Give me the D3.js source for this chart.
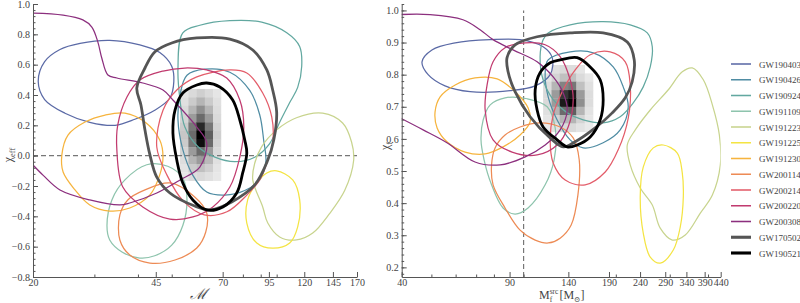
<!DOCTYPE html>
<html>
<head>
<meta charset="utf-8">
<script src="https://cdn.jsdelivr.net/npm/d3@7"></script>
<style>
  body { margin: 0; background: #fff; }
  svg text { font-family: "Liberation Serif", "DejaVu Serif", serif; fill: #444; }
</style>
</head>
<body>
<div id="chart"></div>
<script>
// ---------- events / legend ----------
const events = ["GW190403","GW190426","GW190924","GW191109","GW191223","GW191225","GW191230",
                "GW200114","GW200214","GW200220","GW200308","GW170502","GW190521"];
const colors = ["#5b6aa6","#4f8ca3","#62a8a0","#8ec4ad","#c8d48e","#f4e443","#f6b43e",
                "#ed8b55","#e35d6a","#c13b6f","#8c2f7e","#555555","#000000"];

// ---------- left panel: chirp mass vs chi_eff (90% contours) ----------
const effGW190403 = [[20.7,0.49],[21.6,0.62],[23.9,0.70],[27.3,0.74],[33.2,0.76],[40.5,0.73],[46.2,0.68],[50.0,0.59],[50.7,0.49],[49.4,0.38],[44.7,0.30],[39.2,0.24],[34.4,0.20],[29.1,0.22],[24.7,0.28],[21.6,0.37]];
const effGW190426 = [[52.8,0.40],[55.3,0.53],[62.2,0.57],[73.4,0.55],[83.7,0.43],[89.4,0.27],[91.8,0.10],[93.1,-0.04],[89.4,-0.16],[81.0,-0.23],[71.0,-0.26],[63.0,-0.24],[57.5,-0.13],[53.8,0.04],[52.1,0.24]];
const effGW190924 = [[53.8,0.81],[60.2,0.86],[73.4,0.89],[90.6,0.88],[106.9,0.81],[116.4,0.72],[118.0,0.59],[114.9,0.45],[109,0.35],[102,0.22],[95.5,0.08],[86.5,-0.01],[75.8,-0.04],[66.5,-0.01],[59.4,0.06],[54.5,0.19],[52.8,0.37],[52.1,0.57]];
const effGW191109 = [[32.6,-0.46],[33.7,-0.29],[36.7,-0.16],[42.4,-0.06],[48.7,-0.07],[53.8,-0.15],[55.3,-0.29],[53.8,-0.46],[50.0,-0.59],[44.7,-0.66],[40.5,-0.675],[36.0,-0.635],[33.2,-0.556]];
const effGW191223 = [[85.4,-0.16],[86.5,-0.05],[90.6,0.06],[100,0.17],[114,0.25],[135.5,0.28],[154.6,0.215],[164,0.09],[166.3,-0.03],[156.7,-0.23],[142,-0.38],[126.9,-0.51],[114,-0.556],[102,-0.536],[94.3,-0.444],[91.2,-0.338]];
const effGW191225 = [[82.6,-0.29],[87.7,-0.18],[93.7,-0.114],[100,-0.10],[111.2,-0.16],[116.4,-0.29],[114.9,-0.47],[109,-0.576],[97.4,-0.61],[87.7,-0.576],[82.1,-0.444]];
const effGW191230 = [[24.2,0.005],[25.2,0.136],[28.2,0.222],[32.2,0.268],[36.7,0.281],[41.9,0.222],[46.2,0.103],[47.2,-0.009],[46.2,-0.127],[43.3,-0.259],[37.9,-0.345],[33.2,-0.365],[29.1,-0.325],[26.4,-0.226],[24.4,-0.108]];
const effGW200114 = [[35.5,-0.391],[37.4,-0.292],[41.9,-0.226],[49.4,-0.18],[58.2,-0.272],[63.0,-0.378],[62.6,-0.503],[59.0,-0.609],[51.1,-0.688],[43.3,-0.708],[37.9,-0.655],[35.5,-0.556]];
const effGW200214 = [[45.3,0.057],[47.2,0.30],[51.7,0.433],[59.0,0.519],[73.4,0.565],[82.1,0.545],[91.2,0.413],[96.8,0.255],[97.4,0.084],[93.7,-0.048],[89.4,-0.16],[82.1,-0.26],[72,-0.37],[62,-0.39],[54,-0.30],[48.5,-0.13]];
const effGW200220 = [[34.8,0.037],[35.0,0.202],[37.2,0.387],[40.5,0.499],[47.2,0.558],[54.5,0.578],[63.0,0.565],[71.9,0.512],[78.4,0.367],[80.5,0.189],[78.4,-0.009],[73.4,-0.207],[65.6,-0.338],[57.5,-0.404],[49.4,-0.418],[41.3,-0.338],[36.2,-0.207]];
// cut by the left edge of the frame -> open line
const effGW200308 = [[19.5,0.941],[24.4,0.927],[27.8,0.895],[29.5,0.848],[30.7,0.749],[31.5,0.644],[32.8,0.532],[34.8,0.512],[41.3,0.479],[47.2,0.433],[50.4,0.367],[59.0,0.189],[63.0,0.084],[60.2,-0.075],[52.8,-0.16],[45.3,-0.246],[37.9,-0.312],[35.5,-0.325],[29.1,-0.292],[23.9,-0.226],[21.4,-0.13],[19.6,-0.04]];
const effGW170502 = [[39.7,0.446],[41.9,0.578],[44.7,0.684],[50.0,0.743],[59.0,0.776],[73.4,0.769],[85.4,0.697],[93.7,0.565],[97.4,0.433],[100,0.288],[98.1,0.103],[94.3,-0.029],[86.5,-0.193],[74.3,-0.305],[64.3,-0.358],[58.2,-0.332],[49.4,-0.246],[45.3,-0.141],[43.3,0.005],[41.9,0.169],[40.8,0.334]];
const effGW190521 = [[63.0,0.479],[68.7,0.453],[74.8,0.367],[78.4,0.235],[81.0,0.103],[82.1,0.018],[79.9,-0.114],[76.8,-0.246],[70.1,-0.338],[63.0,-0.358],[57.5,-0.292],[53.8,-0.18],[51.7,-0.029],[50.4,0.149],[51.1,0.301],[53.8,0.413],[59.0,0.466]];

// GW190521 posterior density (left)
const effBinsM = [52.8, 55.8, 58.8, 62.2, 65.7, 69.2];
const effBinsChi = [0.44, 0.385, 0.33, 0.275, 0.22, 0.165, 0.11, 0.055, 0, -0.055, -0.11, -0.165];
const effDensity = [
  [0.05,0.12,0.18,0.12,0.05],
  [0.08,0.20,0.30,0.20,0.08],
  [0.12,0.30,0.45,0.30,0.10],
  [0.15,0.40,0.60,0.40,0.12],
  [0.20,0.55,0.85,0.55,0.15],
  [0.22,0.60,1.00,0.65,0.18],
  [0.20,0.55,0.95,0.60,0.15],
  [0.15,0.40,0.60,0.40,0.12],
  [0.10,0.30,0.40,0.28,0.08],
  [0.06,0.20,0.25,0.18,0.05],
  [0.03,0.10,0.12,0.08,0.03]
];

// ---------- right panel: final mass vs final spin ----------
const finGW190403 = [[46.6,0.840],[50.2,0.877],[59.8,0.899],[77.8,0.909],[97.4,0.909],[115.8,0.887],[124,0.853],[122.1,0.800],[109.1,0.765],[90.4,0.750],[66.9,0.747],[55.4,0.765],[48.8,0.800]];
const finGW190426 = [[120.3,0.846],[141.9,0.871],[168.8,0.868],[196.1,0.824],[211.4,0.762],[219.6,0.700],[206.7,0.628],[181.9,0.588],[156.5,0.572],[141.9,0.597],[128.7,0.659],[120.3,0.731],[117.6,0.806]];
const finGW190924 = [[120.3,0.930],[141.9,0.955],[181.9,0.965],[222.9,0.955],[253.4,0.930],[263.1,0.887],[259.1,0.824],[245.8,0.762],[228,0.712],[206.7,0.669],[181.9,0.650],[156.5,0.659],[138.8,0.681],[124.9,0.722],[115.8,0.784],[113.2,0.856],[115.8,0.909]];
const finGW191109 = [[73.8,0.659],[77.8,0.706],[87.0,0.728],[102.7,0.725],[119.4,0.700],[126.8,0.634],[125.8,0.535],[117.6,0.457],[103.4,0.385],[93.8,0.366],[85.7,0.385],[78.6,0.457],[74.3,0.535],[72.6,0.597]];
const finGW191223 = [[218,0.581],[231.5,0.628],[259.1,0.690],[296.8,0.753],[329.6,0.809],[355.4,0.821],[386.1,0.784],[413.3,0.706],[435.6,0.612],[438.8,0.519],[413.3,0.425],[377.5,0.369],[337.1,0.301],[305.8,0.285],[279.3,0.322],[263.1,0.394],[240.3,0.447],[222.9,0.519]];
const finGW191225 = [[285.7,0.581],[317.5,0.556],[329.6,0.494],[332.2,0.419],[324.7,0.326],[308.1,0.254],[279.3,0.213],[259.1,0.232],[245.8,0.307],[240.3,0.419],[245.8,0.512],[265.1,0.572]];
const finGW191230 = [[51.4,0.684],[53.4,0.731],[59.8,0.768],[69.4,0.790],[82.0,0.787],[93.8,0.747],[103.4,0.697],[105,0.653],[97.4,0.612],[85.7,0.575],[74.9,0.553],[64.4,0.559],[56.2,0.591],[52.2,0.634]];
const finGW200114 = [[80.7,0.572],[87.0,0.612],[97.4,0.637],[113.2,0.650],[131.6,0.637],[145.2,0.603],[151.9,0.535],[150.4,0.425],[143,0.332],[131.6,0.291],[120.3,0.276],[109.1,0.285],[97.4,0.316],[87.0,0.385],[79.5,0.457],[78.6,0.519]];
const finGW200214 = [[122.1,0.597],[124.9,0.675],[133.7,0.747],[147.4,0.815],[165,0.862],[191.7,0.871],[214.7,0.840],[222.9,0.768],[219.6,0.665],[203.6,0.566],[184.7,0.497],[158.9,0.457],[136.7,0.472],[124.9,0.525]];
const finGW200220 = [[74.9,0.690],[76.0,0.768],[79.5,0.840],[87.0,0.884],[101.2,0.899],[117.6,0.893],[131.6,0.856],[141.9,0.784],[145.2,0.722],[139.8,0.637],[128.7,0.581],[110.7,0.550],[91.7,0.559],[79.5,0.597]];
const finGW200308 = [[39,0.987],[49.5,0.987],[63.4,0.971],[72.1,0.940],[79.5,0.909],[92.4,0.877],[110.7,0.840],[124.9,0.793],[134.7,0.743],[138.8,0.690],[131.6,0.628],[117.6,0.581],[101.2,0.544],[83.8,0.519],[69.4,0.528],[56.2,0.588],[47.0,0.628],[39,0.668]];
const finGW170502 = [[88.3,0.853],[93.8,0.893],[110.7,0.918],[141.9,0.930],[181.9,0.930],[218,0.902],[229.7,0.846],[226.2,0.778],[214.7,0.728],[194.7,0.681],[171.3,0.634],[147.4,0.591],[134.7,0.575],[122.1,0.603],[105,0.669],[93.8,0.747],[89.0,0.809]];
const finGW190521 = [[131.6,0.846],[149.6,0.853],[165,0.824],[177.8,0.784],[181.9,0.722],[177.8,0.659],[165,0.606],[149.6,0.581],[138.8,0.575],[128.7,0.597],[115.8,0.637],[110.7,0.690],[109.1,0.753],[113.2,0.806],[122.1,0.837]];

const finBinsM = [115.8, 123.3, 131.2, 139.7, 148.7, 158.3, 168.5];
const finBinsChi = [0.83, 0.804, 0.778, 0.752, 0.726, 0.70, 0.674, 0.648, 0.622];
const finDensity = [
  [0.00,0.08,0.12,0.10,0.05,0.00],
  [0.05,0.15,0.25,0.25,0.12,0.04],
  [0.10,0.30,0.50,0.55,0.25,0.08],
  [0.12,0.40,0.80,0.90,0.40,0.10],
  [0.12,0.40,0.90,1.00,0.45,0.10],
  [0.08,0.30,0.60,0.65,0.30,0.06],
  [0.05,0.15,0.30,0.30,0.15,0.04],
  [0.02,0.06,0.12,0.12,0.06,0.02]
];

// ---------- axes ticks ----------
const effMassTicks = [20, 45, 70, 95, 120, 145, 170];
const effMassMinor = [30, 40, 50, 60, 80, 90, 100];
const effChiTicks = [-0.8, -0.6, -0.4, -0.2, 0.0, 0.2, 0.4, 0.6, 0.8, 1.0];
const finMassTicks = [40, 90, 140, 190, 240, 290, 340, 390, 440];
const finMassMinor = [50, 60, 70, 80, 100, 200, 300, 400];
const finChiTicks = [0.2, 0.3, 0.4, 0.5, 0.6, 0.7, 0.8, 0.9, 1.0];

const effContours = [effGW190403, effGW190426, effGW190924, effGW191109, effGW191223, effGW191225, effGW191230,
                     effGW200114, effGW200214, effGW200220, effGW200308, effGW170502, effGW190521];
const finContours = [finGW190403, finGW190426, finGW190924, finGW191109, finGW191223, finGW191225, finGW191230,
                     finGW200114, finGW200214, finGW200220, finGW200308, finGW170502, finGW190521];

// ---------- drawing ----------
const W = 800, H = 303;
const svg = d3.select("#chart").append("svg").attr("width", W).attr("height", H);

const axisColor = "#555";
const fmt1 = d3.format(".1f");
const serif = '"Liberation Serif", "DejaVu Serif", serif';

function lineWidth(name) {
  return (name === "GW170502" || name === "GW190521") ? 2.8 : 1.25;
}

function panel(id, x, y, cfg) {
  const g = svg.append("g");
  const [x0, x1] = x.range(), [y0, y1] = y.range();

  g.append("clipPath").attr("id", id)
    .append("rect").attr("x", x0).attr("y", Math.min(y0, y1))
    .attr("width", x1 - x0).attr("height", Math.abs(y0 - y1));

  const plot = g.append("g").attr("clip-path", `url(#${id})`);

  // density squares
  const cells = [];
  cfg.density.forEach((row, i) => row.forEach((v, j) => {
    cells.push({ m0: cfg.binsM[j], m1: cfg.binsM[j + 1], c0: cfg.binsChi[i], c1: cfg.binsChi[i + 1], v });
  }));
  plot.append("g").selectAll("rect").data(cells.filter(d => d.v > 0)).join("rect")
    .attr("x", d => x(d.m0))
    .attr("y", d => y(d.c0))
    .attr("width", d => x(d.m1) - x(d.m0) + 0.3)
    .attr("height", d => y(d.c1) - y(d.c0) + 0.3)
    .attr("fill", d => d3.interpolateGreys(0.14 + 0.86 * d.v));

  // reference dashed line
  plot.append("line")
    .attr("x1", cfg.dash.x1(x)).attr("x2", cfg.dash.x2(x))
    .attr("y1", cfg.dash.y1(y)).attr("y2", cfg.dash.y2(y))
    .attr("stroke", "#777").attr("stroke-width", 1.2).attr("stroke-dasharray", "5,3");

  // contours: thin ones first, thick on top
  plot.append("g").selectAll("path").data(d3.range(events.length)).join("path")
    .attr("d", i => {
      const curve = events[i] === "GW200308" ? d3.curveCatmullRom.alpha(0.5) : d3.curveCatmullRomClosed.alpha(0.5);
      return d3.line().x(p => x(p[0])).y(p => y(p[1])).curve(curve)(cfg.contours[i]);
    })
    .attr("fill", "none")
    .attr("stroke", i => colors[i])
    .attr("stroke-width", i => lineWidth(events[i]))
    .attr("stroke-linejoin", "round");

  // axes (ticks point inward, like the original frame)
  const gx = g.append("g").attr("transform", `translate(0,${y0})`)
    .call(d3.axisBottom(x).tickValues(cfg.xTicks).tickFormat(d3.format("d"))
      .tickSizeInner(-5).tickSizeOuter(0).tickPadding(2));
  const gxm = g.append("g").attr("transform", `translate(0,${y0})`)
    .call(d3.axisBottom(x).tickValues(cfg.xMinor).tickFormat("").tickSizeInner(-2.5).tickSizeOuter(0));
  const gy = g.append("g").attr("transform", `translate(${x0},0)`)
    .call(d3.axisLeft(y).tickValues(cfg.yTicks).tickFormat(fmt1)
      .tickSizeInner(-5).tickSizeOuter(0).tickPadding(3));
  const gym = g.append("g").attr("transform", `translate(${x0},0)`)
    .call(d3.axisLeft(y).tickValues(cfg.yMinor).tickFormat("").tickSizeInner(-2.5).tickSizeOuter(0));
  gxm.select(".domain").remove();
  gym.select(".domain").remove();

  [gx, gxm, gy, gym].forEach(a => {
    a.selectAll("path,line").attr("stroke", axisColor).attr("stroke-width", 1);
    a.selectAll("text").attr("fill", "#444").attr("font-size", 10).attr("font-family", serif);
  });
  return g;
}

const xL = d3.scaleLog().domain([20, 170]).range([33, 357]);
const yL = d3.scaleLinear().domain([-0.8, 1.0]).range([277, 4]);
const xR = d3.scaleLog().domain([40, 440]).range([401.7, 720.7]);
const yR = d3.scaleLinear().domain([0.17, 1.02]).range([277, 4]);

const effMinorChi = d3.range(-0.8, 1.0001, 0.04).map(v => +v.toFixed(2));
const finMinorChi = d3.range(0.18, 1.0201, 0.02).map(v => +v.toFixed(2));

panel("clipL", xL, yL, {
  contours: effContours, binsM: effBinsM, binsChi: effBinsChi, density: effDensity,
  xTicks: effMassTicks, xMinor: effMassMinor, yTicks: effChiTicks, yMinor: effMinorChi,
  dash: { x1: s => s.range()[0], x2: s => s.range()[1], y1: s => s(0), y2: s => s(0) }
});
panel("clipR", xR, yR, {
  contours: finContours, binsM: finBinsM, binsChi: finBinsChi, density: finDensity,
  xTicks: finMassTicks, xMinor: finMassMinor, yTicks: finChiTicks, yMinor: finMinorChi,
  dash: { x1: s => s(100), x2: s => s(100), y1: s => s(0.17), y2: s => s(1.0) }
});

// ---------- axis titles ----------
const yt1 = svg.append("text").attr("transform", "translate(12,155) rotate(-90)")
  .attr("text-anchor", "middle").attr("font-size", 12).attr("font-family", serif).attr("fill", "#444");
yt1.append("tspan").text("χ");
yt1.append("tspan").attr("font-size", 8.5).attr("dy", 3).text("eff");

const yt2 = svg.append("text").attr("transform", "translate(389,146) rotate(-90)")
  .attr("text-anchor", "middle").attr("font-size", 12).attr("font-family", serif).attr("fill", "#444");
yt2.append("tspan").text("χ");
yt2.append("tspan").attr("font-size", 8.5).attr("dy", 3).text("f");

svg.append("text").attr("x", 198).attr("y", 299).attr("text-anchor", "middle")
  .attr("font-size", 15).attr("font-family", serif).attr("font-style", "italic").attr("fill", "#444").text("ℳ");

// M_f^src [M_sun]
(function () {
  const gl = svg.append("g").attr("font-family", serif);
  let xs = 539;
  const by = 299;
  const t1 = gl.append("text").attr("x", xs).attr("y", by).attr("font-size", 12).attr("fill", "#444").text("M");
  xs += t1.node().getComputedTextLength();
  const t2 = gl.append("text").attr("x", xs).attr("y", by - 5).attr("font-size", 7.5).attr("fill", "#444").text("src");
  gl.append("text").attr("x", xs).attr("y", by + 3).attr("font-size", 7.5).attr("fill", "#444").text("f");
  xs += t2.node().getComputedTextLength() + 1;
  const t3 = gl.append("text").attr("x", xs).attr("y", by).attr("font-size", 12).attr("fill", "#444").text("[M");
  xs += t3.node().getComputedTextLength();
  const t4 = gl.append("text").attr("x", xs).attr("y", by + 3).attr("font-size", 7.5).attr("fill", "#444").text("⊙");
  xs += t4.node().getComputedTextLength();
  gl.append("text").attr("x", xs).attr("y", by).attr("font-size", 12).attr("fill", "#444").text("]");
})();

// ---------- legend ----------
const legY0 = 64, legStep = 15.75;
const leg = svg.append("g").selectAll("g").data(events).join("g")
  .attr("transform", (d, i) => `translate(731,${legY0 + i * legStep})`);
leg.append("line").attr("x1", 0).attr("x2", 20).attr("y1", 0).attr("y2", 0)
  .attr("stroke", (d, i) => colors[i]).attr("stroke-width", d => lineWidth(d) + 0.3);
leg.append("text").attr("x", 28).attr("y", 3.5).attr("font-size", 9)
  .attr("font-family", serif).attr("fill", "#555").text(d => d);
</script>
</body>
</html>
